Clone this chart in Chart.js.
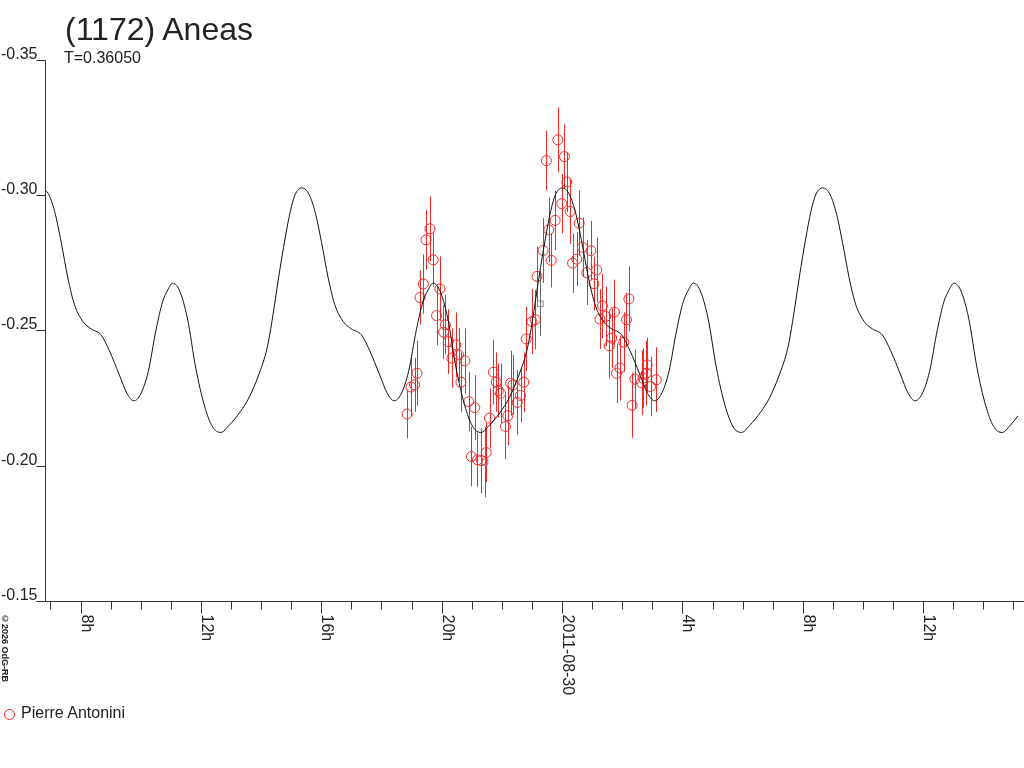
<!DOCTYPE html>
<html lang="fr">
<head>
<meta charset="utf-8">
<title>(1172) Aneas</title>
<script src="https://cdn.jsdelivr.net/npm/chart.js"></script>
<style>
  body { margin: 0; background: #fff; }
  #wrap { position: relative; width: 1024px; height: 768px; overflow: hidden;
          font-family: "Liberation Sans", Arial, sans-serif; color: #222; }
  #wrap canvas { position: absolute; left: 0; top: 0; }
  .txt { position: absolute; white-space: nowrap; line-height: 1; }
  #title { left: 65px; top: 13px; font-size: 32px; }
  #period { left: 64px; top: 50px; font-size: 16px; }
  #legend { left: 21px; top: 705px; font-size: 16px; }
  #legendMark { position: absolute; left: 4px; top: 709px; width: 9px; height: 9px;
                border: 1px solid #f02828; border-radius: 50%; }
  #copy { left: 0; top: 614px; font-size: 9px; font-weight: bold; writing-mode: vertical-rl; }
</style>
</head>
<body>
<div id="wrap">
  <canvas id="lc" width="1024" height="768"></canvas>
  <div class="txt" id="title">(1172) Aneas</div>
  <div class="txt" id="period">T=0.36050</div>
  <div class="txt" id="copy">©2026 OdG-RB</div>
  <span id="legendMark"></span>
  <div class="txt" id="legend">Pierre Antonini</div>
</div>

<script>
// time in hours from 2011-08-29 0h, values in magnitudes
var xMin = 6.82, xMax = 39.15;
var yMin = -0.35, yMax = -0.15;

var yTickValues = [-0.35, -0.30, -0.25, -0.20, -0.15];
var yTickLabels = ['-0.35', '-0.30', '-0.25', '-0.20', '-0.15'];
var xMajorTicks = [8, 12, 16, 20, 24, 28, 32, 36];
var xTickLabels = ['8h', '12h', '16h', '20h', '2011-08-30', '4h', '8h', '12h'];

// fitted curve
var curveHours = [
  6.82, 6.92, 7.14, 7.36, 7.58, 7.80, 8.08, 8.35, 8.68, 8.96, 9.29, 9.54, 9.77, 10.00, 10.25, 10.51, 10.73, 10.90,
  11.06, 11.28, 11.55, 11.83, 12.11, 12.38, 12.66, 12.94, 13.31, 13.59, 13.92, 14.20, 14.36, 14.58, 14.80, 14.97, 15.13,
  15.35, 15.57, 15.79, 16.01, 16.23, 16.45, 16.73, 17.00, 17.33, 17.61, 17.94, 18.19, 18.42, 18.65, 18.90, 19.16, 19.38, 19.55,
  19.71, 19.93, 20.20, 20.48, 20.76, 21.03, 21.31, 21.59, 21.96, 22.24, 22.57, 22.85, 23.01, 23.23, 23.45, 23.62, 23.78,
  24.00, 24.22, 24.44, 24.66, 24.88, 25.10, 25.38, 25.65, 25.98, 26.26, 26.59, 26.84, 27.07, 27.30, 27.55, 27.81, 28.03, 28.20,
  28.36, 28.58, 28.85, 29.13, 29.41, 29.68, 29.96, 30.24, 30.61, 30.89, 31.22, 31.50, 31.66, 31.88, 32.10, 32.27, 32.43,
  32.66, 32.88, 33.10, 33.32, 33.54, 33.76, 34.04, 34.31, 34.64, 34.92, 35.25, 35.50, 35.73, 35.96, 36.21, 36.47, 36.69, 36.86,
  37.02, 37.24, 37.51, 37.79, 38.07, 38.34, 38.62, 38.90, 39.15
];
var curveMag = [
  -0.3018, -0.3008, -0.2940, -0.2825, -0.2694, -0.2595, -0.2533, -0.2506, -0.2484, -0.2425, -0.2336, -0.2268, -0.2240, -0.2265, -0.2348, -0.2503, -0.2607, -0.2650,
  -0.2675, -0.2650, -0.2546, -0.2361, -0.2225, -0.2145, -0.2123, -0.2150, -0.2200, -0.2250, -0.2336, -0.2435, -0.2533, -0.2694, -0.2842, -0.2940, -0.3002,
  -0.3027, -0.3008, -0.2940, -0.2825, -0.2694, -0.2595, -0.2533, -0.2506, -0.2484, -0.2425, -0.2336, -0.2268, -0.2240, -0.2265, -0.2348, -0.2503, -0.2607, -0.2650,
  -0.2675, -0.2650, -0.2546, -0.2361, -0.2225, -0.2145, -0.2123, -0.2150, -0.2200, -0.2250, -0.2336, -0.2435, -0.2533, -0.2694, -0.2842, -0.2940, -0.3002,
  -0.3027, -0.3008, -0.2940, -0.2825, -0.2694, -0.2595, -0.2533, -0.2506, -0.2484, -0.2425, -0.2336, -0.2268, -0.2240, -0.2265, -0.2348, -0.2503, -0.2607, -0.2650,
  -0.2675, -0.2650, -0.2546, -0.2361, -0.2225, -0.2145, -0.2123, -0.2150, -0.2200, -0.2250, -0.2336, -0.2435, -0.2533, -0.2694, -0.2842, -0.2940, -0.3002,
  -0.3027, -0.3008, -0.2940, -0.2825, -0.2694, -0.2595, -0.2533, -0.2506, -0.2484, -0.2425, -0.2336, -0.2268, -0.2240, -0.2265, -0.2348, -0.2503, -0.2607, -0.2650,
  -0.2675, -0.2650, -0.2546, -0.2361, -0.2225, -0.2145, -0.2123, -0.2150, -0.2185
];

// Pierre Antonini observations
var obsHours = [
  18.85, 18.98, 19.10, 19.18, 19.28, 19.39, 19.48, 19.61, 19.72, 19.83,
  19.94, 20.06, 20.12, 20.22, 20.34, 20.47, 20.56, 20.64, 20.77, 20.90,
  20.99, 21.10, 21.19, 21.32, 21.48, 21.59, 21.72, 21.81, 21.88, 21.96,
  22.12, 22.20, 22.29, 22.37, 22.51, 22.62, 22.73, 22.81, 23.00, 23.11,
  23.17, 23.37, 23.48, 23.56, 23.64, 23.77, 23.86, 23.99, 24.08, 24.16,
  24.27, 24.35, 24.49, 24.57, 24.68, 24.82, 24.96, 25.06, 25.15, 25.26,
  25.34, 25.45, 25.57, 25.65, 25.74, 25.81, 25.92, 26.05, 26.14, 26.22,
  26.33, 26.42, 26.64, 26.69, 26.80, 26.83, 26.94, 27.13
];
var obsMag = [
  -0.2191, -0.2291, -0.2299, -0.2342, -0.2622, -0.2672, -0.2835, -0.2876, -0.2761, -0.2555,
  -0.2654, -0.2494, -0.2521, -0.2459, -0.2398, -0.2447, -0.2410, -0.2309, -0.2388, -0.2237,
  -0.2034, -0.2215, -0.2022, -0.2019, -0.2049, -0.2176, -0.2346, -0.2309, -0.2278, -0.2268,
  -0.2145, -0.2185, -0.2305, -0.2299, -0.2234, -0.2260, -0.2309, -0.2469, -0.2533, -0.2540,
  -0.2700, -0.2796, -0.3128, -0.2872, -0.2759, -0.2907, -0.3205, -0.2969, -0.3143, -0.3049,
  -0.2940, -0.2749, -0.2764, -0.2897, -0.2808, -0.2714, -0.2795, -0.2673, -0.2724, -0.2542,
  -0.2591, -0.2552, -0.2443, -0.2472, -0.2568, -0.2342, -0.2361, -0.2457, -0.2540, -0.2617,
  -0.2223, -0.2320, -0.2307, -0.2324, -0.2342, -0.2373, -0.2293, -0.2318
];
var obsErr = [
  0.009, 0.011, 0.010, 0.012, 0.010, 0.011, 0.011, 0.012, 0.010, 0.011,
  0.012, 0.010, 0.011, 0.012, 0.011, 0.012, 0.010, 0.011, 0.012, 0.011,
  0.011, 0.012, 0.010, 0.012, 0.011, 0.011, 0.012, 0.011, 0.010, 0.011,
  0.012, 0.011, 0.012, 0.011, 0.012, 0.010, 0.011, 0.012, 0.012, 0.011,
  0.011, 0.012, 0.011, 0.012, 0.010, 0.011, 0.012, 0.011, 0.012, 0.011,
  0.012, 0.011, 0.010, 0.012, 0.011, 0.012, 0.011, 0.010, 0.012, 0.011,
  0.012, 0.011, 0.012, 0.011, 0.012, 0.011, 0.012, 0.011, 0.010, 0.012,
  0.012, 0.011, 0.012, 0.011, 0.012, 0.010, 0.011, 0.012
];

// grey squares
var greyHours = [21.44, 23.28];
var greyMag = [-0.2014, -0.2599];
var greyErr = [0.013, 0.012];

var red = '#f02828';
var grey = '#666';

function pts(xs, ys) {
  return xs.map(function (h, i) { return { x: h, y: ys[i] }; });
}

function drawBars(ctx, x, y, hours, mags, errs, colour) {
  ctx.strokeStyle = colour;
  ctx.beginPath();
  for (let i = 0; i < hours.length; i++) {
    const px = Math.round(x.getPixelForValue(hours[i])) + 0.5;
    ctx.moveTo(px, y.getPixelForValue(mags[i] - errs[i]));
    ctx.lineTo(px, y.getPixelForValue(mags[i] + errs[i]));
  }
  ctx.stroke();
}

// vertical error bars under the marks
const errorBars = {
  id: 'errorBars',
  beforeDatasetsDraw(chart) {
    const ctx = chart.ctx, x = chart.scales.x, y = chart.scales.y;
    ctx.save();
    ctx.lineWidth = 1;
    drawBars(ctx, x, y, obsHours, obsMag, obsErr, red);
    drawBars(ctx, x, y, greyHours, greyMag, greyErr, grey);
    ctx.restore();
  }
};

// axes drawn by hand: labels above the y ticks, x labels turned clockwise
const axes = {
  id: 'axes',
  afterDraw(chart) {
    const ctx = chart.ctx, x = chart.scales.x, y = chart.scales.y;
    const ax = Math.round(x.getPixelForValue(xMin)) + 0.5;
    const bottom = Math.round(y.getPixelForValue(yMax)) + 0.5;
    ctx.save();
    ctx.strokeStyle = '#333';
    ctx.lineWidth = 1;
    ctx.beginPath();
    ctx.moveTo(ax, Math.round(y.getPixelForValue(yMin)) + 0.5);
    ctx.lineTo(ax, bottom);
    ctx.moveTo(ax - 9, bottom);
    ctx.lineTo(chart.width, bottom);
    yTickValues.forEach(function (v) {
      const py = Math.round(y.getPixelForValue(v)) + 0.5;
      ctx.moveTo(ax - 9, py);
      ctx.lineTo(ax, py);
    });
    for (let h = 7; h <= 39; h++) {
      const px = Math.round(x.getPixelForValue(h)) + 0.5;
      const len = xMajorTicks.indexOf(h) >= 0 ? 12 : 8;
      ctx.moveTo(px, bottom);
      ctx.lineTo(px, bottom + len);
    }
    ctx.stroke();

    ctx.fillStyle = '#222';
    ctx.font = '16px "Liberation Sans", Arial, sans-serif';
    ctx.textAlign = 'right';
    ctx.textBaseline = 'alphabetic';
    yTickValues.forEach(function (v, i) {
      const py = Math.round(y.getPixelForValue(v));
      ctx.fillText(yTickLabels[i], ax - 8, py - 1);
    });

    ctx.textAlign = 'left';
    xMajorTicks.forEach(function (h, i) {
      const px = Math.round(x.getPixelForValue(h));
      ctx.save();
      ctx.translate(px + 1, bottom + 13);
      ctx.rotate(Math.PI / 2);
      ctx.fillText(xTickLabels[i], 0, 0);
      ctx.restore();
    });
    ctx.restore();
  }
};

new Chart(document.getElementById('lc'), {
  type: 'scatter',
  data: {
    datasets: [
      {
        label: 'fit',
        data: pts(curveHours, curveMag),
        showLine: true,
        borderColor: '#111',
        borderWidth: 1,
        pointRadius: 0,
        cubicInterpolationMode: 'monotone',
        order: 0
      },
      {
        label: 'Pierre Antonini',
        data: pts(obsHours, obsMag),
        pointRadius: 5,
        pointBorderWidth: 1,
        pointBorderColor: red,
        pointBackgroundColor: 'rgba(0,0,0,0)',
        order: 1
      },
      {
        label: 'grey',
        data: pts(greyHours, greyMag),
        pointStyle: 'rect',
        pointRadius: 4,
        pointBorderWidth: 1,
        pointBorderColor: '#888',
        pointBackgroundColor: 'rgba(0,0,0,0)',
        order: 2
      }
    ]
  },
  options: {
    responsive: false,
    animation: false,
    devicePixelRatio: 1,
    events: [],
    layout: { padding: { left: 45, top: 60, right: 0, bottom: 167 } },
    plugins: { legend: { display: false }, tooltip: { enabled: false } },
    scales: {
      x: { type: 'linear', min: xMin, max: xMax, display: false },
      y: { min: yMin, max: yMax, reverse: true, display: false }
    }
  },
  plugins: [errorBars, axes]
});
</script>
</body>
</html>
